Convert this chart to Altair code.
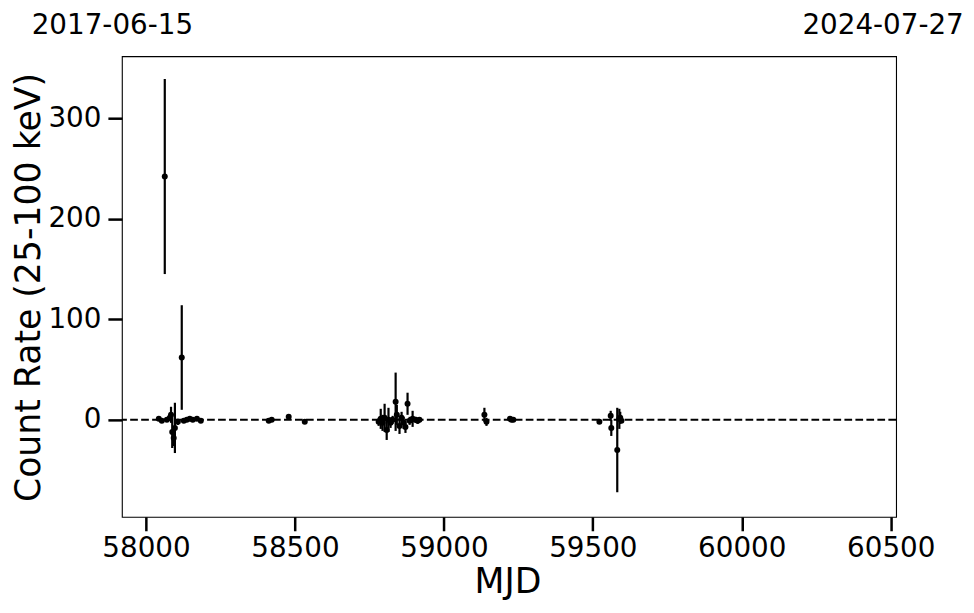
import altair as alt
import pandas as pd

# Observation times (MJD), count rates and 1-sigma errors (25-100 keV)
mjd = [58043, 58053, 58063, 58070, 58080, 58084, 58088, 58093, 58097, 58107,
       58120, 58127, 58137, 58147, 58157, 58171, 58184,
       58412, 58422, 58479, 58533,
       58781, 58788, 58794, 58801, 58808, 58814, 58821, 58828, 58838, 58842,
       58851, 58858, 58865, 58871, 58878, 58885, 58895, 58905, 58912, 58918,
       59136, 59143, 59222, 59227, 59233,
       59522, 59560, 59562, 59582, 59589, 59592, 59596]
rate = [1, -1, 242, 0, 2, 5, -12, -18, -8, -2,
        62, -1, 0, 1, 0, 1, -1,
        -1, 0, 3, -2,
        -2, 1, -3, 2, -10, 0, -3, 0, 18, 5,
        -6, 2, -3, -7, 16, -1, 1, 0, -1, 0,
        5, -2, 1, 0, 0,
        -2, 4, -8, -30, 1, 2, -1]
err = [2, 2, 97, 2, 3, 8, 16, 8, 25, 3,
       52, 2, 2, 2, 2, 2, 2,
       1.5, 1.5, 2, 1.5,
       4, 10, 8, 14, 10, 12, 5, 4, 29, 10,
       8, 6, 6, 6, 11, 4, 8, 3, 3, 2,
       7, 4, 1, 2, 2,
       2, 5, 8, 42, 10, 6, 2]

x_ticks = [58000, 58500, 59000, 59500, 60000, 60500]
y_ticks = [0, 100, 200, 300]
date_start = "2017-06-15"
date_end = "2024-07-27"

df = pd.DataFrame({"mjd": mjd, "rate": rate, "err": err})
df["lo"] = df["rate"] - df["err"]
df["hi"] = df["rate"] + df["err"]

xs = alt.Scale(domain=[57919, 60518], nice=False, zero=False)
ys = alt.Scale(domain=[-96.4, 361.6], nice=False, zero=False)

FONT = "DejaVu Sans"

xaxis = alt.Axis(values=x_ticks, format="d", title="MJD", grid=False, domain=False,
                 tickSize=14, tickWidth=2.5, tickColor="black",
                 labelFontSize=27.8, labelColor="black", labelFont=FONT,
                 labelBaseline="alphabetic", labelPadding=26, labelFlush=False,
                 titleFontSize=34.7, titleFont=FONT, titleFontWeight="normal",
                 titleColor="black", titleX=386, titleY=76,
                 titleBaseline="alphabetic", titleAlign="center")
yaxis = alt.Axis(values=y_ticks, format="d", title="Count Rate (25-100 keV)", grid=False,
                 domain=False, tickSize=14, tickWidth=2.5, tickColor="black",
                 labelFontSize=27.8, labelColor="black", labelFont=FONT,
                 labelPadding=7, labelFlush=False,
                 titleFontSize=34.7, titleFont=FONT, titleFontWeight="normal",
                 titleColor="black", titleAngle=270, titleX=-82, titleY=231,
                 titleBaseline="alphabetic", titleAlign="center")

base = alt.Chart(df)

bars = base.mark_rule(color="black", strokeWidth=2.2).encode(
    x=alt.X("mjd:Q", scale=xs, axis=xaxis),
    y=alt.Y("lo:Q", scale=ys, axis=yaxis),
    y2="hi:Q",
)
pts = base.mark_circle(color="black", size=36, opacity=1).encode(
    x=alt.X("mjd:Q", scale=xs),
    y=alt.Y("rate:Q", scale=ys),
)
zero = alt.Chart(pd.DataFrame({"y": [0]})).mark_rule(
    color="black", strokeWidth=2, strokeDash=[7.7, 3.3]
).encode(y=alt.Y("y:Q", scale=ys))

t1 = alt.Chart(pd.DataFrame({"t": [date_start]})).mark_text(
    fontSize=27.8, font=FONT, color="black", align="center", baseline="alphabetic"
).encode(text="t:N", x=alt.value(-9.5), y=alt.value(-22))
t2 = alt.Chart(pd.DataFrame({"t": [date_end]})).mark_text(
    fontSize=27.8, font=FONT, color="black", align="center", baseline="alphabetic"
).encode(text="t:N", x=alt.value(762), y=alt.value(-22))

chart = alt.layer(zero, bars, pts, t1, t2).properties(
    width=775, height=461,
    padding={"left": 114, "top": 48, "right": 70, "bottom": 96},
    autosize=alt.AutoSizeParams(type="none"),
).configure(background="white").configure_view(stroke="black", strokeWidth=1.1)

chart.save("out.html", embed_options={"renderer": "svg", "actions": False})
